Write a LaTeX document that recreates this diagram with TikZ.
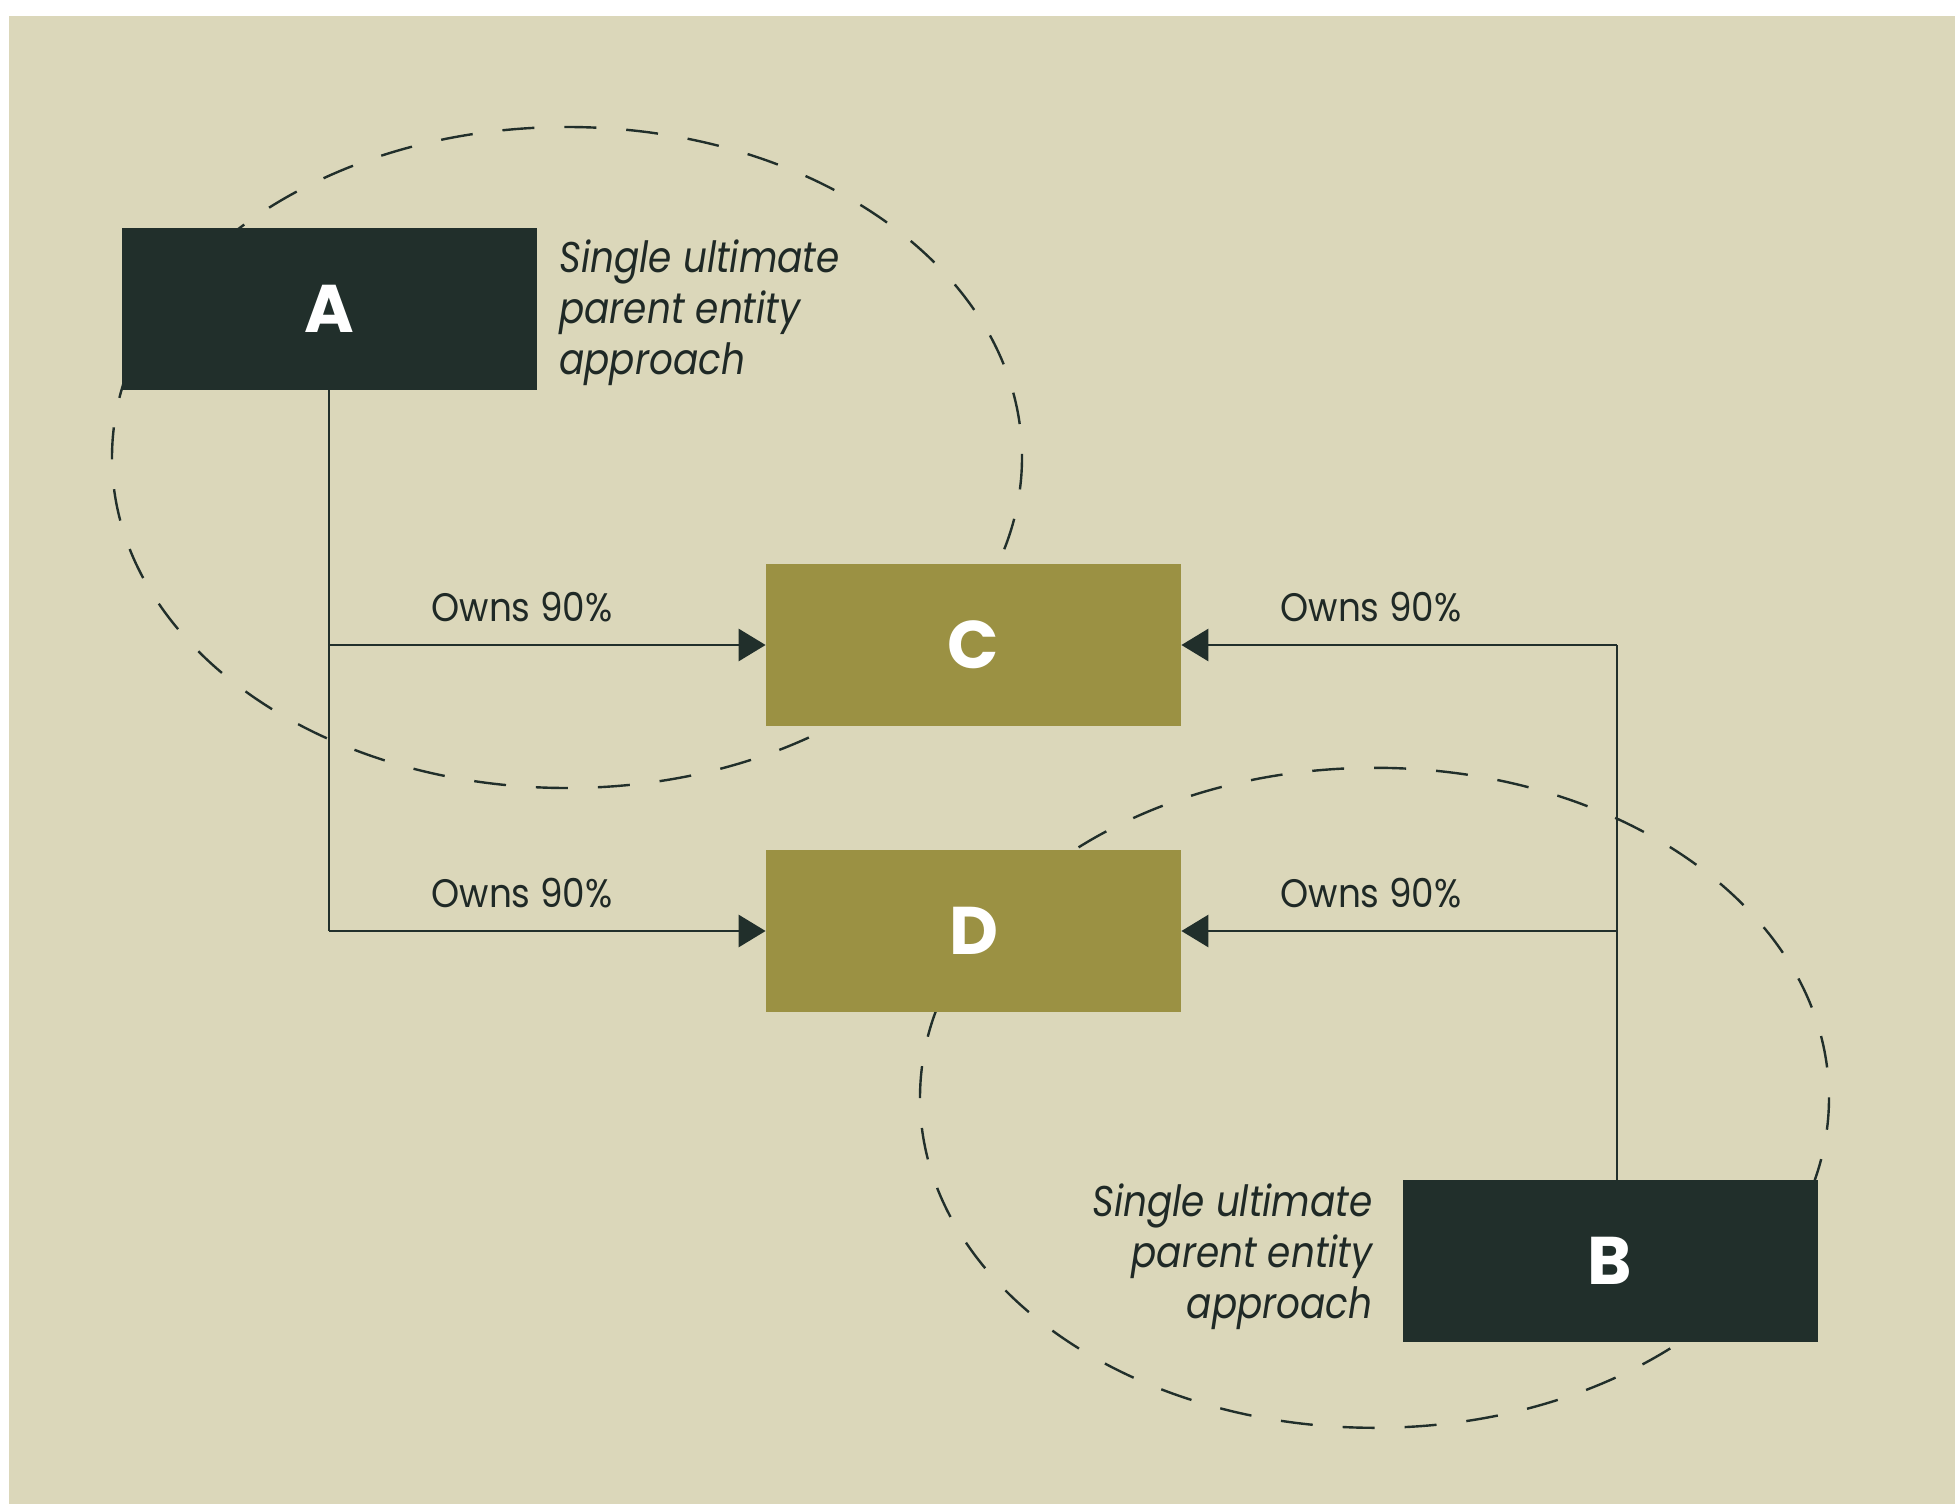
\documentclass[tikz,border=0pt]{standalone}
\usepackage{fontspec}
\setmainfont{Poppins}
\newfontfamily\labfont{Poppins}[FakeStretch=0.9]
\newfontfamily\descfont{Poppins}[FakeStretch=0.87]
\usetikzlibrary{arrows.meta}
\definecolor{bgc}{HTML}{DBD7BA}
\definecolor{darkc}{HTML}{212F2B}
\definecolor{olivec}{HTML}{9B9143}
\definecolor{textc}{HTML}{1F2926}
\tikzset{
  darkbox/.style={fill=darkc, minimum width=207.5pt, minimum height=81pt, inner sep=0pt,
    text=white, font=\fontsize{33.7}{36}\selectfont\bfseries},
  olivebox/.style={darkbox, fill=olivec},
  desc/.style={inner sep=0pt, text=textc, font=\descfont\fontsize{21.5}{24}\selectfont\itshape},
  owns/.style={inner sep=0pt, text=textc, font=\labfont\fontsize{19.9}{22}\selectfont, anchor=base},
  conn/.style={draw=darkc, line width=1.45pt},
  arr/.style={conn, -{Triangle[length=13.5pt, width=16pt]}},
  zone/.style={draw=darkc, line width=1.2pt, dash pattern=on 16pt off 15pt}
}
\begin{document}
\begin{tikzpicture}[x=0.5pt,y=-0.5pt]
\useasboundingbox (0,0) rectangle (1955,1504);
\fill[white] (0,0) rectangle (1955,1504);
\fill[bgc] (9,16) rectangle (1955,1504);
% dashed zones
\draw[zone] (567,457.5) ellipse [x radius=455, y radius=330.5];
\draw[zone] (1374.5,1097.8) ellipse [x radius=454.5, y radius=330];
% boxes
\node[darkbox] (A) at (329,309) {A};
\node[olivebox] (C) at (973.5,645) {C};
\node[olivebox] (D) at (973.5,931) {D};
\node[darkbox] (B) at (1610,1261) {B};
% connectors from A
\draw[conn] (A.south) -- (A.south |- D.west);
\draw[arr] (A.south |- C.west) -- (C.west);
\draw[arr] (A.south |- D.west) -- (D.west);
% connectors from B
\coordinate (Btop) at (1617,1180);
\draw[conn] (Btop) -- (Btop |- C.east);
\draw[arr] (Btop |- C.east) -- (C.east);
\draw[arr] (Btop |- D.east) -- (D.east);
% labels
\node[owns] (l1) at (522,621.7) {Owns 90\%};
\node[owns] (l2) at (522,907.7) {Owns 90\%};
\node[owns] (l3) at (1371,621.7) {Owns 90\%};
\node[owns] (l4) at (1371,907.7) {Owns 90\%};
% descriptions
\node[desc, anchor=base west] (a1) at (559,272) {Single ultimate};
\node[desc, anchor=base west] (a2) at (559,323) {parent entity};
\node[desc, anchor=base west] (a3) at (559,374) {approach};
\node[desc, anchor=base east] (b1) at (1373,1216) {Single ultimate};
\node[desc, anchor=base east] (b2) at (1373,1267) {parent entity};
\node[desc, anchor=base east] (b3) at (1373,1318) {approach};
\end{tikzpicture}
\end{document}
